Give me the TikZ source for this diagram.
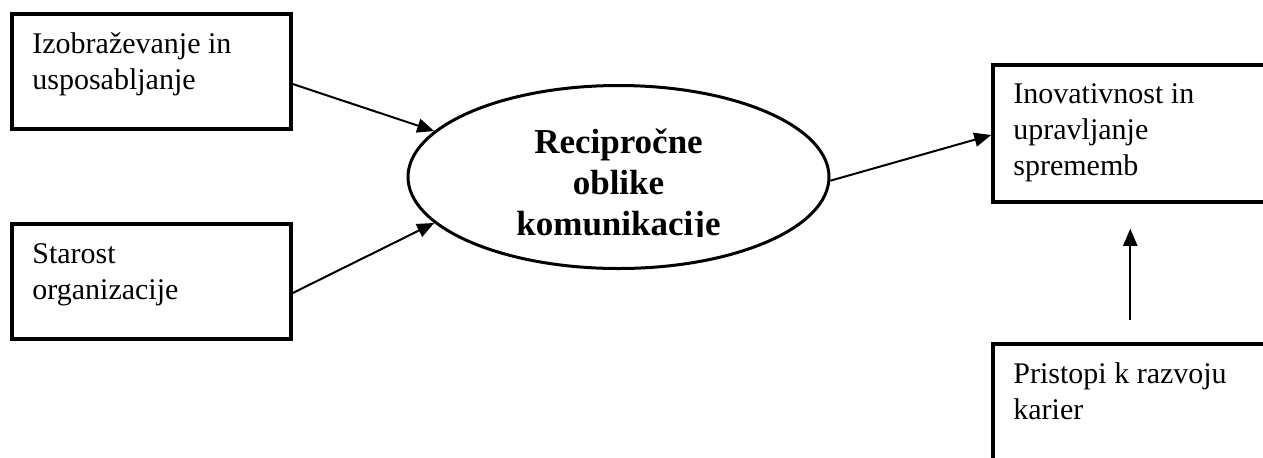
\documentclass[tikz,border=0pt]{standalone}
\usepackage{fontspec}
\setmainfont{Liberation Serif}
\usetikzlibrary{shapes.geometric,arrows.meta}
\begin{document}
\begin{tikzpicture}[x=0.5pt,y=-0.5pt,
  boxr/.style={draw, line width=1.75pt, inner sep=0pt},
  lbl/.style={anchor=base west, inner sep=0pt, font=\fontsize{15}{18}\selectfont},
  arr/.style={-{Triangle[length=8.5pt,width=7pt]}, line width=1pt},
]
\clip (0,0) rectangle (1263,457);
% boxes
\node[boxr, minimum width=139.5pt, minimum height=57.5pt] (b1) at (151.5,71.5) {};
\node[boxr, minimum width=139.5pt, minimum height=57.5pt] (b2) at (151.5,281.5) {};
\node[boxr, minimum width=153.5pt, minimum height=68.5pt] (b3) at (1146.5,133.5) {};
\node[boxr, minimum width=153.5pt, minimum height=68pt] (b4) at (1146.5,412) {};
% labels
\node[lbl] (t1) at (32,53) {\begin{tabular}[t]{@{}l@{}}Izobraževanje in\\usposabljanje\end{tabular}};
\node[lbl] (t2) at (32,263) {\begin{tabular}[t]{@{}l@{}}Starost\\organizacije\end{tabular}};
\node[lbl] (t3) at (1013,103) {\begin{tabular}[t]{@{}l@{}}Inovativnost in\\upravljanje\\sprememb\end{tabular}};
\node[lbl] (t4) at (1013,383) {\begin{tabular}[t]{@{}l@{}}Pristopi k razvoju\\karier\end{tabular}};
% ellipse
\node[ellipse, draw, line width=1.5pt, minimum width=210.5pt, minimum height=91.5pt, inner sep=0pt] (e) at (618.5,177) {};
\begin{scope}
\clip (400,100) rectangle (840,236);
\node[anchor=base, inner sep=0pt, font=\fontsize{17.5}{20.5}\selectfont\bfseries] (et) at (618.5,153)
  {\begin{tabular}[t]{@{}c@{}}Recipročne\\oblike\\komunikacije\end{tabular}};
\end{scope}
% connectors
\draw[arr] ([yshift=-6.25pt]b1.east) -- (e.166);
\draw[arr] ([yshift=-5.75pt]b2.east) -- (e.194);
\draw[arr] (e.-1) -- ([yshift=-0.75pt]b3.west);
\draw[arr] ([xshift=69.5pt,yshift=11pt]b4.north west) -- ([xshift=69.5pt,yshift=-12.5pt]b3.south west);
\end{tikzpicture}
\end{document}
